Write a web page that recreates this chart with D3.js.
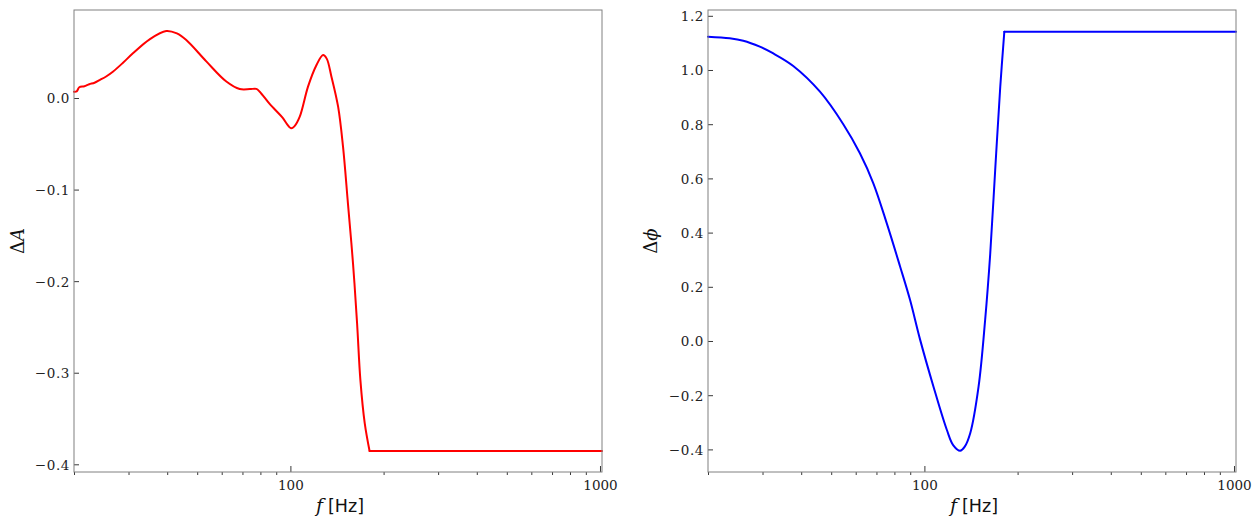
<!DOCTYPE html>
<html>
<head>
<meta charset="utf-8">
<script src="https://cdn.jsdelivr.net/npm/d3@7/dist/d3.min.js"></script>
<style>
body { margin: 0; background: #fff; }
svg { display: block; }
</style>
</head>
<body>
<svg id="chart" width="1259" height="528"></svg>
<script>
// ---- data ----
const freqAmp = [20, 20.4, 20.8, 21.6, 22.4, 23.3, 24.2, 25.4, 26.7, 28.8, 31, 35.1, 39.7, 43, 46.1, 53.5, 62.1, 68.6, 74, 77.6, 79.6, 85.7, 94.6, 97.5, 100.5, 103, 107.2, 114, 121, 127.5, 131, 135.7, 142.6, 147.9, 153.4, 159.3, 164.2, 168.3, 173.8, 180.2, 1015];
const deltaAmp = [0.0069, 0.0072, 0.0117, 0.0128, 0.0150, 0.0167, 0.0196, 0.0235, 0.0287, 0.0385, 0.0488, 0.0641, 0.0732, 0.0705, 0.0633, 0.040, 0.0180, 0.0098, 0.0097, 0.0100, 0.0069, -0.0065, -0.022, -0.0285, -0.0331, -0.031, -0.0204, 0.0124, 0.035, 0.047, 0.043, 0.0233, -0.0095, -0.0532, -0.115, -0.1805, -0.246, -0.308, -0.355, -0.3855, -0.3855];

const freqPhase = [20, 23.5, 26, 29.4, 32.4, 37.7, 46, 54.7, 61.9, 68.4, 75.6, 83.5, 89.9, 96.8, 107, 118.2, 124, 130.5, 135, 140.6, 149.6, 157.1, 163.2, 169.3, 175.8, 181.2, 1015];
const deltaPhase = [1.123, 1.117, 1.108, 1.086, 1.062, 1.015, 0.920, 0.800, 0.6926, 0.582, 0.434, 0.274, 0.151, 0.006, -0.1686, -0.3284, -0.385, -0.4048, -0.39, -0.3406, -0.1686, 0.0775, 0.3236, 0.631, 0.938, 1.1413, 1.1413];

const xMajorTicks = [100, 1000];
const xMinorTicks = [20, 30, 40, 50, 60, 70, 80, 90, 200, 300, 400, 500, 600, 700, 800, 900];
const yTicksAmp = [0.0, -0.1, -0.2, -0.3, -0.4];
const yTicksPhase = [1.2, 1.0, 0.8, 0.6, 0.4, 0.2, 0.0, -0.2, -0.4];

// ---- layout ----
const svg = d3.select("#chart");
const plotTop = 10, plotBottom = 472;
const xDomain = [20, 1015];
const tickFont = "'DejaVu Serif', serif";

function panel(opts) {
  const x = d3.scaleLog().domain(xDomain).range([opts.x0, opts.x1]);
  const y = d3.scaleLinear().domain(opts.yDomain).range([plotBottom, plotTop]);
  const g = svg.append("g");

  // minor x ticks (outward)
  const minor = g.append("g").attr("transform", `translate(0,${plotBottom})`)
    .call(d3.axisBottom(x).tickValues(xMinorTicks).tickSize(3).tickFormat(""));
  minor.select(".domain").remove();

  // major x ticks (inward)
  const major = g.append("g").attr("transform", `translate(0,${plotBottom})`)
    .call(d3.axisBottom(x).tickValues(xMajorTicks).tickSize(-6).tickPadding(8).tickFormat(d3.format("d")));
  major.select(".domain").remove();
  major.selectAll("text").attr("font-family", tickFont).attr("font-size", 13.5).attr("fill", "#222");

  // y ticks (inward)
  const ya = g.append("g").attr("transform", `translate(${opts.x0},0)`)
    .call(d3.axisLeft(y).tickValues(opts.yTicks).tickSize(-5).tickPadding(4).tickFormat(d3.format(".1f")));
  ya.select(".domain").remove();
  ya.selectAll("text").attr("font-family", tickFont).attr("font-size", 13.5)
    .attr("fill", "#222").attr("letter-spacing", "0.6px").attr("dy", "0.36em");

  g.selectAll(".tick line").attr("stroke", "#222").attr("stroke-width", 0.9);

  // line: smooth part up to the corner, straight plateau afterwards
  const pts = opts.fx.map((f, i) => [f, opts.vy[i]]);
  const n = pts.length;
  const smooth = d3.line().x(d => x(d[0])).y(d => y(d[1])).curve(d3.curveCatmullRom.alpha(0.5));
  const straight = d3.line().x(d => x(d[0])).y(d => y(d[1]));
  g.append("path").datum(pts.slice(0, n - 1)).attr("d", smooth)
    .attr("fill", "none").attr("stroke", opts.color).attr("stroke-width", 2)
    .attr("stroke-linecap", "round");
  g.append("path").datum(pts.slice(n - 2)).attr("d", straight)
    .attr("fill", "none").attr("stroke", opts.color).attr("stroke-width", 2)
    .attr("stroke-linecap", "round");

  // spines
  g.append("rect").attr("x", opts.x0).attr("y", plotTop)
    .attr("width", opts.x1 - opts.x0).attr("height", plotBottom - plotTop)
    .attr("fill", "none").attr("stroke", "#808080").attr("stroke-width", 1);

  // x label
  const xl = g.append("text").attr("x", (opts.x0 + opts.x1) / 2 + 2).attr("y", 512)
    .attr("text-anchor", "middle").attr("fill", "#111");
  xl.append("tspan").attr("font-family", "'DejaVu Serif', serif").attr("font-style", "italic")
    .attr("font-size", 19).text("f");
  xl.append("tspan").attr("dx", 5).attr("font-family", "'DejaVu Sans', sans-serif").attr("font-size", 17.5)
    .text("[Hz]");

  // y label
  const yl = g.append("text")
    .attr("transform", `translate(${opts.ylx},241) rotate(-90)`)
    .attr("text-anchor", "middle").attr("fill", "#111");
  yl.append("tspan").attr("font-family", "'DejaVu Serif', serif").attr("font-size", 18).text("Δ");
  yl.append("tspan").attr("font-family", "'DejaVu Serif', serif").attr("font-style", "italic")
    .attr("font-size", 18).text(opts.ylSym);
}

panel({ x0: 74, x1: 602, yDomain: [-0.4084, 0.0961], yTicks: yTicksAmp,
  fx: freqAmp, vy: deltaAmp, color: "#ff0000", ylx: 24, ylSym: "A" });
panel({ x0: 708, x1: 1236, yDomain: [-0.4834, 1.2214], yTicks: yTicksPhase,
  fx: freqPhase, vy: deltaPhase, color: "#0000ff", ylx: 657, ylSym: "ϕ" });
</script>
</body>
</html>
